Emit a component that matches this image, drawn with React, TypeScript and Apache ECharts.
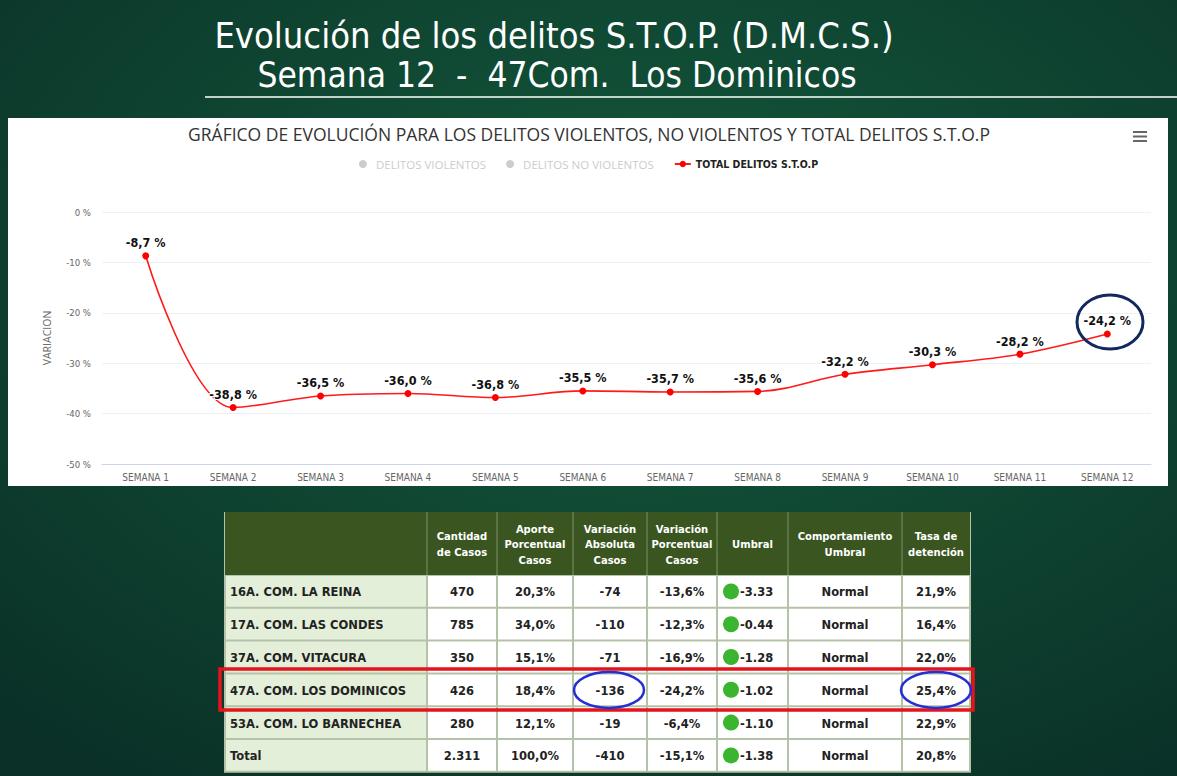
import React, { useEffect, useRef } from "react";
import * as echarts from "echarts";

const weeks = ["SEMANA 1", "SEMANA 2", "SEMANA 3", "SEMANA 4", "SEMANA 5", "SEMANA 6", "SEMANA 7", "SEMANA 8", "SEMANA 9", "SEMANA 10", "SEMANA 11", "SEMANA 12"];
const totalStop = [-8.7, -38.8, -36.5, -36.0, -36.8, -35.5, -35.7, -35.6, -32.2, -30.3, -28.2, -24.2];
const yTicks = [0, -10, -20, -30, -40, -50];

const comunas = ["16A. COM. LA REINA", "17A. COM. LAS CONDES", "37A. COM. VITACURA", "47A. COM. LOS DOMINICOS", "53A. COM. LO BARNECHEA", "Total"];
const cantidad = [470, 785, 350, 426, 280, 2311];
const aporte = [20.3, 34.0, 15.1, 18.4, 12.1, 100.0];
const varAbs = [-74, -110, -71, -136, -19, -410];
const varPorc = [-13.6, -12.3, -16.9, -24.2, -6.4, -15.1];
const umbral = [-3.33, -0.44, -1.28, -1.02, -1.1, -1.38];
const comportamiento = ["Normal", "Normal", "Normal", "Normal", "Normal", "Normal"];
const tasa = [21.9, 16.4, 22.0, 25.4, 22.9, 20.8];
const headers = ["", "Cantidad\nde Casos", "Aporte\nPorcentual\nCasos", "Variación\nAbsoluta\nCasos", "Variación\nPorcentual\nCasos", "Umbral", "Comportamiento\nUmbral", "Tasa de\ndetención"];

const pct = (v: number) => v.toFixed(1).replace(".", ",") + "%";
const thousands = (v: number) => String(v).replace(/\B(?=(\d{3})+(?!\d))/g, ".");

function buildTable(): any[] {
  const els: any[] = [];
  const cols = [225, 427, 497, 573, 647, 717, 788, 902, 970];
  const hTop = 512;
  const hBot = 575;
  const rowH = 32.8;
  const tFont = "'DejaVu Sans', sans-serif";
  const tableBottom = hBot + rowH * comunas.length;
  els.push({ type: "rect", shape: { x: cols[0] - 1, y: hTop, width: cols[8] - cols[0] + 2, height: tableBottom - hTop + 1 }, style: { fill: "#b4c2a7" } });
  els.push({ type: "rect", shape: { x: cols[0], y: hTop, width: cols[8] - cols[0], height: hBot - hTop }, style: { fill: "#3a5520" } });
  for (let c = 1; c < 8; c++) {
    els.push({ type: "line", shape: { x1: cols[c], y1: hTop, x2: cols[c], y2: hBot }, style: { stroke: "#7f916c", lineWidth: 1 } });
    els.push({
      type: "text",
      x: (cols[c] + cols[c + 1]) / 2,
      y: (hTop + hBot) / 2 + 1,
      style: { text: headers[c], fill: "#ffffff", font: `bold 10px ${tFont}`, align: "center", verticalAlign: "middle", lineHeight: 15.5 },
    });
  }
  comunas.forEach((name, r) => {
    const y0 = hBot + r * rowH;
    for (let c = 0; c < 8; c++) {
      els.push({
        type: "rect",
        shape: { x: cols[c] + 1, y: y0 + 1, width: cols[c + 1] - cols[c] - 2, height: rowH - 2 },
        style: { fill: c === 0 ? "#e3efd9" : "#ffffff" },
      });
    }
    const cy = y0 + rowH / 2 + 1;
    const f = `bold 11.5px ${tFont}`;
    els.push({ type: "text", x: cols[0] + 5, y: cy, style: { text: name, fill: "#222222", font: f, align: "left", verticalAlign: "middle" } });
    const vals = [thousands(cantidad[r]), pct(aporte[r]), String(varAbs[r]), pct(varPorc[r])];
    vals.forEach((t, i) => {
      const c = i + 1;
      els.push({ type: "text", x: (cols[c] + cols[c + 1]) / 2, y: cy, style: { text: t, fill: "#222222", font: f, align: "center", verticalAlign: "middle" } });
    });
    els.push({ type: "circle", shape: { cx: cols[5] + 14, cy: cy - 1, r: 8 }, style: { fill: "#3bb430" } });
    els.push({ type: "text", x: cols[5] + 23, y: cy, style: { text: umbral[r].toFixed(2), fill: "#222222", font: f, align: "left", verticalAlign: "middle" } });
    els.push({ type: "text", x: (cols[6] + cols[7]) / 2, y: cy, style: { text: comportamiento[r], fill: "#222222", font: f, align: "center", verticalAlign: "middle" } });
    els.push({ type: "text", x: (cols[7] + cols[8]) / 2, y: cy, style: { text: pct(tasa[r]), fill: "#222222", font: f, align: "center", verticalAlign: "middle" } });
  });
  els.push({ type: "rect", shape: { x: 220, y: 669, width: 753, height: 41 }, style: { fill: "none", stroke: "#e3141b", lineWidth: 3.5 } });
  els.push({ type: "ellipse", shape: { cx: 609, cy: 690, rx: 35, ry: 18 }, style: { fill: "none", stroke: "#2430d4", lineWidth: 2.5 } });
  els.push({ type: "ellipse", shape: { cx: 936, cy: 690, rx: 35, ry: 18 }, style: { fill: "none", stroke: "#2430d4", lineWidth: 2.5 } });
  return els;
}

export default function App() {
  const ref = useRef<HTMLDivElement>(null);
  useEffect(() => {
    if (!ref.current) return;
    const chart = echarts.init(ref.current, null, { renderer: "svg" });
    const titleFont = "'DejaVu Sans Condensed', 'Liberation Sans Narrow', sans-serif";
    const option: any = {
      animation: false,
      backgroundColor: {
        type: "radial",
        x: 0.55,
        y: 0.35,
        r: 0.8,
        colorStops: [
          { offset: 0, color: "#145a3c" },
          { offset: 1, color: "#0a3027" },
        ],
      },
      title: {
        text: "GRÁFICO DE EVOLUCIÓN PARA LOS DELITOS VIOLENTOS, NO VIOLENTOS Y TOTAL DELITOS S.T.O.P",
        left: 584,
        textAlign: "center",
        top: 120,
        textStyle: { fontFamily: "'Open Sans', sans-serif", fontSize: 17.5, fontWeight: "normal", color: "#333333" },
      },
      legend: {
        top: 153,
        left: "center",
        itemGap: 20,
        itemWidth: 16,
        itemHeight: 8,
        inactiveColor: "#cccccc",
        textStyle: { fontFamily: "'Open Sans', sans-serif", fontSize: 11.5, color: "#333333" },
        data: [
          { name: "DELITOS VIOLENTOS", icon: "circle" },
          { name: "DELITOS NO VIOLENTOS", icon: "circle" },
          { name: "TOTAL DELITOS S.T.O.P", textStyle: { fontWeight: "bold", color: "#222222", fontFamily: "'DejaVu Sans Condensed', sans-serif", fontSize: 10.5 } },
        ],
        selected: { "DELITOS VIOLENTOS": false, "DELITOS NO VIOLENTOS": false, "TOTAL DELITOS S.T.O.P": true },
      },
      grid: { left: 102, right: 26, top: 212, bottom: 312 },
      xAxis: {
        type: "category",
        data: weeks,
        boundaryGap: true,
        axisLine: { onZero: false, lineStyle: { color: "#ccd6eb" } },
        axisTick: { show: false },
        axisLabel: { color: "#666666", fontSize: 10, fontFamily: "'DejaVu Sans Condensed', sans-serif", margin: 8, interval: 0 },
      },
      yAxis: {
        type: "value",
        min: -50,
        max: 0,
        interval: 10,
        name: "VARIACION",
        nameLocation: "middle",
        nameRotate: 90,
        nameGap: 50,
        nameTextStyle: { color: "#666666", fontSize: 10.5, fontFamily: "'Open Sans', sans-serif" },
        axisLabel: {
          color: "#666666",
          fontSize: 9.5,
          fontFamily: "'DejaVu Sans Condensed', sans-serif",
          margin: 11,
          formatter: (v: number) => (yTicks.includes(v) ? `${v} %` : ""),
        },
        splitLine: { lineStyle: { color: "#eef0f4", width: 1 } },
        axisLine: { show: false },
      },
      series: [
        { name: "DELITOS VIOLENTOS", type: "line", data: [], itemStyle: { color: "#cccccc" } },
        { name: "DELITOS NO VIOLENTOS", type: "line", data: [], itemStyle: { color: "#cccccc" } },
        {
          name: "TOTAL DELITOS S.T.O.P",
          type: "line",
          data: totalStop,
          smooth: 0.35,
          symbol: "circle",
          symbolSize: 7,
          lineStyle: { color: "#ff1a1a", width: 1.6 },
          itemStyle: { color: "#ff0000" },
          label: {
            show: true,
            position: "top",
            distance: 3,
            color: "#111111",
            fontSize: 12.5,
            fontWeight: "bold",
            fontFamily: "'DejaVu Sans Condensed', sans-serif",
            textBorderColor: "#ffffff",
            textBorderWidth: 2,
            formatter: (p: any) => p.value.toFixed(1).replace(".", ",") + " %",
          },
        },
      ],
      graphic: [
        { type: "rect", z: -100, shape: { x: 8, y: 118, width: 1160, height: 368 }, style: { fill: "#ffffff" } },
        {
          type: "text",
          x: 554,
          y: 35,
          style: { text: "Evolución de los delitos S.T.O.P. (D.M.C.S.)", fill: "#ffffff", font: `36px ${titleFont}`, align: "center", verticalAlign: "middle" },
        },
        {
          type: "text",
          x: 557,
          y: 75,
          style: { text: "Semana 12  -  47Com.  Los Dominicos", fill: "#ffffff", font: `35px ${titleFont}`, align: "center", verticalAlign: "middle" },
        },
        { type: "line", shape: { x1: 205, y1: 97, x2: 1177, y2: 97 }, style: { stroke: "#ffffff", lineWidth: 1.5 } },
        { type: "rect", shape: { x: 1133, y: 131, width: 14, height: 2 }, style: { fill: "#666666" } },
        { type: "rect", shape: { x: 1133, y: 135.5, width: 14, height: 2 }, style: { fill: "#666666" } },
        { type: "rect", shape: { x: 1133, y: 140, width: 14, height: 2 }, style: { fill: "#666666" } },
        { type: "ellipse", z: 100, shape: { cx: 1110, cy: 322, rx: 33, ry: 27 }, style: { fill: "none", stroke: "#13285c", lineWidth: 3 } },
        ...buildTable(),
      ],
    };
    chart.setOption(option);
    return () => chart.dispose();
  }, []);
  return (
    <div style={{ position: "absolute", left: 0, top: 0, width: 1177, height: 776, overflow: "hidden" }}>
      <div ref={ref} style={{ width: 1177, height: 776 }} />
    </div>
  );
}
